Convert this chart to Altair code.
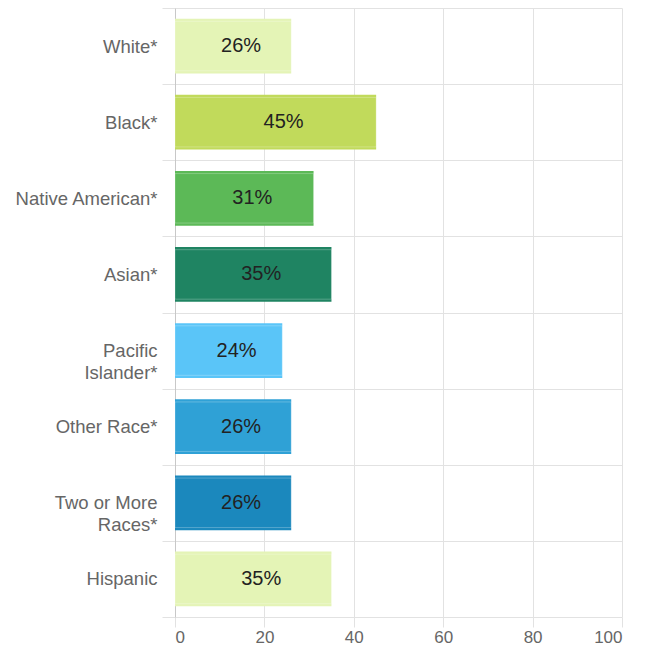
import altair as alt
import pandas as pd

categories = ["White*", "Black*", "Native American*", "Asian*", "Pacific Islander*",
              "Other Race*", "Two or More Races*", "Hispanic"]
values = [26, 45, 31, 35, 24, 26, 26, 35]
colors = ["#e4f4b6", "#c1da5b", "#5cb957", "#1f8462", "#5ac5f8", "#2fa1d6", "#1b88bd", "#e4f4b6"]
x_ticks = [0, 20, 40, 60, 80, 100]

df = pd.DataFrame({"cat": categories, "val": values, "color": colors})
df["half"] = df["val"] / 2
df["label"] = df["val"].astype(str) + "%"

label_expr = ("datum.value == 'Pacific Islander*' ? ['Pacific', 'Islander*'] : "
              "datum.value == 'Two or More Races*' ? ['Two or More', 'Races*'] : datum.value")

y_enc = alt.Y("cat:N", sort=categories, title=None,
              scale=alt.Scale(paddingInner=0, paddingOuter=0),
              axis=alt.Axis(tickBand="extent", labelExpr=label_expr, labelFontSize=18.5,
                            labelColor="#666666", labelPadding=5, labelLimit=0,
                            labelLineHeight=22, labelFont="Liberation Sans",
                            tickSize=13, tickColor="#e2e2e2", gridColor="#e2e2e2",
                            domainColor="#c8c8c8", grid=True))
x_enc = alt.X("val:Q", title=None,
              scale=alt.Scale(domain=[0, 100], nice=False),
              axis=alt.Axis(values=x_ticks, labelFontSize=17, labelColor="#666666",
                            labelFont="Liberation Sans", tickSize=10, tickColor="#e2e2e2",
                            gridColor="#e2e2e2", domain=False, labelPadding=2))

bars = alt.Chart(df).mark_bar(height=alt.RelativeBandSize(0.72)).encode(
    y=y_enc, x=x_enc,
    color=alt.Color("color:N", scale=None),
)

inner = alt.Chart(df).mark_bar(
    fill="transparent", stroke="white", strokeOpacity=0.25, strokeWidth=1,
    height=alt.RelativeBandSize(0.65), x2Offset=-3,
).encode(
    y=alt.Y("cat:N", sort=categories),
    x=alt.X("val:Q"),
)

text = alt.Chart(df).mark_text(fontSize=20, color="#222222", dx=8,
                               font="Liberation Sans").encode(
    y=alt.Y("cat:N", sort=categories),
    x=alt.X("half:Q"),
    text="label:N",
)

chart = alt.layer(bars, inner, text).properties(
    width=447, height=609,
    autosize=alt.AutoSizeParams(type="none"),
    padding={"left": 167, "top": 0, "right": 20, "bottom": 34},
).configure_view(stroke=None).configure_axis(gridWidth=1)

chart.save("out.html", embed_options={"renderer": "svg", "actions": False})
